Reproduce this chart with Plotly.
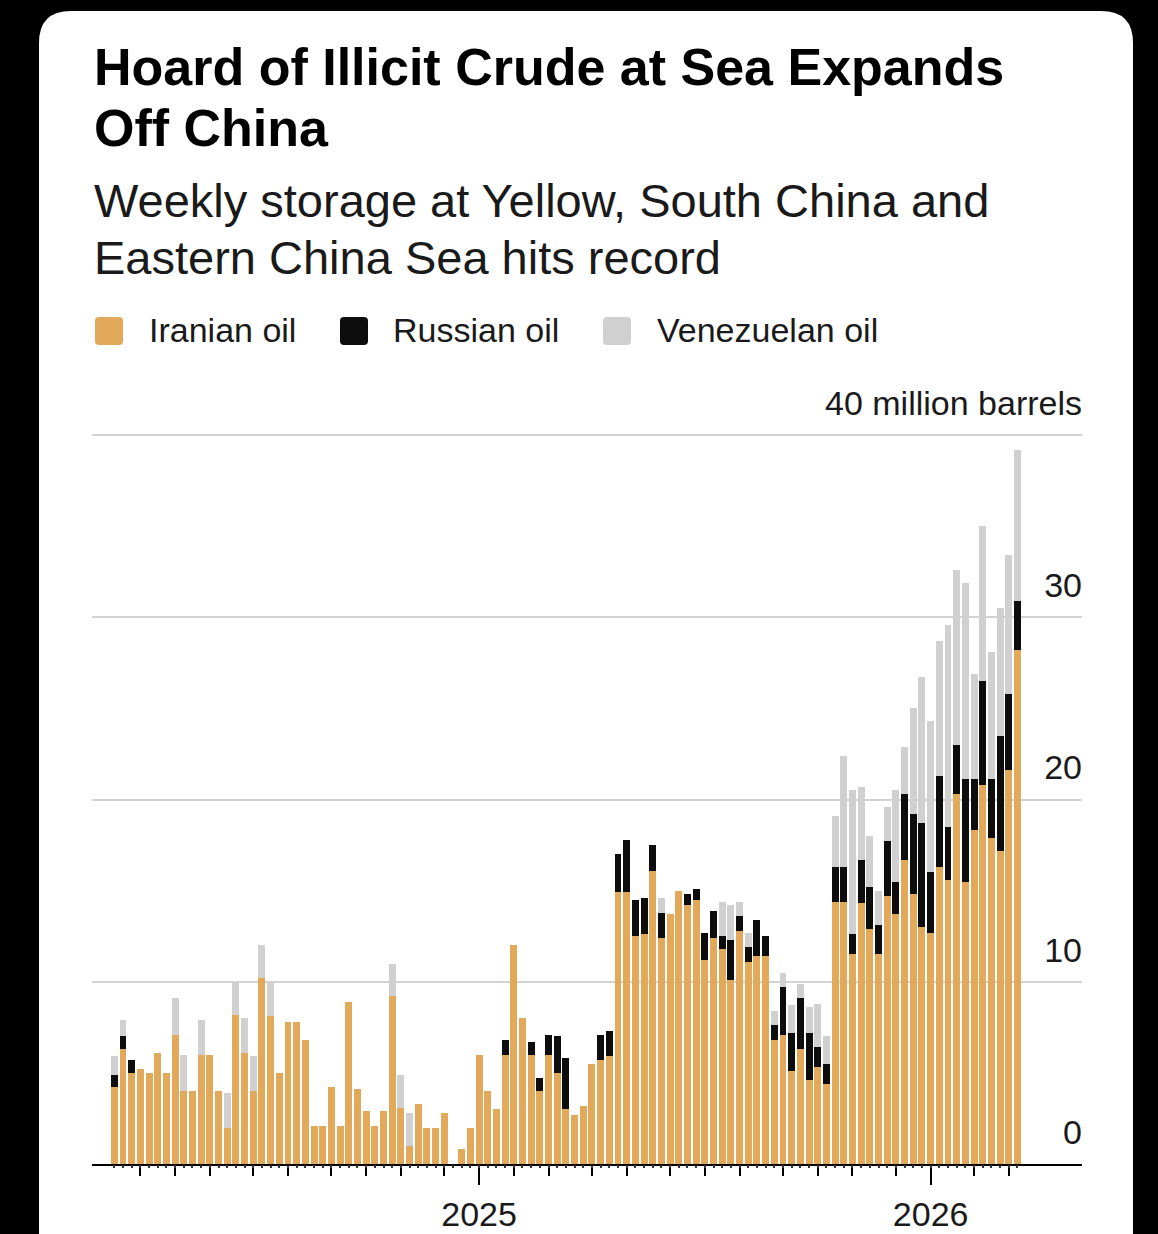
import pandas as pd
import plotly.graph_objects as go

# -----------------------------
# Data (million barrels)
# -----------------------------
weeks = pd.date_range("2024-03-16", periods=105, freq="7D")

iranian = [
    4.2, 6.3, 5.0, 5.2, 5.0, 6.1, 5.0, 7.1, 4.0, 4.0,
    6.0, 6.0, 4.0, 2.0, 8.2, 6.1, 4.0, 10.2, 8.1, 5.0,
    7.8, 7.8, 6.8, 2.1, 2.1, 4.2, 2.1, 8.9, 4.1, 2.9,
    2.1, 2.9, 9.2, 3.1, 1.0, 3.3, 2.0, 2.0, 2.8, 0.0,
    0.8, 2.0, 6.0, 4.0, 3.0, 6.0, 12.0, 8.0, 6.0, 4.0,
    6.0, 5.0, 3.0, 2.7, 3.2, 5.5, 5.7, 5.9, 14.9, 14.9,
    12.5, 12.6, 16.1, 12.4, 13.7, 15.0, 14.2, 14.5, 11.2, 12.4,
    11.8, 10.1, 12.8, 11.1, 11.4, 11.4, 6.8, 7.1, 5.1, 6.3,
    4.6, 5.3, 4.4, 14.4, 14.4, 11.5, 14.3, 12.9, 11.5, 14.7,
    13.7, 16.7, 14.8, 13.0, 12.7, 16.3, 15.6, 20.3, 15.5, 18.3,
    20.8, 17.9, 17.2, 21.6, 28.2,
]
russian = [
    0.7, 0.7, 0.7, 0, 0, 0, 0, 0, 0, 0,
    0, 0, 0, 0, 0, 0, 0, 0, 0, 0,
    0, 0, 0, 0, 0, 0, 0, 0, 0, 0,
    0, 0, 0, 0, 0, 0, 0, 0, 0, 0,
    0, 0, 0, 0, 0, 0.8, 0, 0, 0.7, 0.7,
    1.1, 2.0, 2.8, 0, 0, 0, 1.4, 1.4, 2.1, 2.9,
    2.0, 2.0, 1.4, 1.4, 0, 0, 0.6, 0.6, 1.5, 1.5,
    0.7, 2.2, 0.8, 0.8, 2.0, 1.1, 0.8, 2.6, 2.1, 2.8,
    2.6, 1.1, 1.1, 1.9, 1.9, 1.1, 2.4, 2.3, 1.6, 3.0,
    1.8, 3.6, 4.4, 5.7, 3.3, 5.0, 2.9, 2.7, 5.6, 2.8,
    5.7, 3.2, 6.3, 4.2, 2.7,
]
venezuelan = [
    1.0, 0.9, 0, 0, 0, 0, 0, 2.0, 2.0, 0,
    1.9, 0, 0, 1.9, 1.8, 1.9, 1.9, 1.8, 1.9, 0,
    0, 0, 0, 0, 0, 0, 0, 0, 0, 0,
    0, 0, 1.8, 1.8, 1.8, 0, 0, 0, 0, 0,
    0, 0, 0, 0, 0, 0, 0, 0, 0, 0,
    0, 0, 0, 0, 0, 0, 0, 0, 0, 0,
    0, 0, 0, 0.8, 0, 0, 0, 0, 0, 0,
    1.9, 1.9, 0.8, 0.8, 0, 0, 0.8, 0.8, 1.5, 0.8,
    1.4, 2.4, 1.5, 2.8, 6.1, 7.9, 4.0, 2.8, 1.9, 1.9,
    5.0, 2.6, 5.8, 8.0, 8.3, 7.4, 11.1, 9.6, 10.8, 5.8,
    8.5, 7.0, 7.0, 7.6, 8.3,
]

series = ["Iranian oil", "Russian oil", "Venezuelan oil"]
colors = ["#E2A95B", "#0D0D0D", "#D0D0D0"]

y_ticks = [0, 10, 20, 30, 40]
y_labels = ["0", "10", "20", "30", "40 million barrels"]

# first bar of each month gets a tick, January gets the year label
month_ticks = [d for d in weeks if d.day <= 7]
year_ticks = [d for d in month_ticks if d.month == 1]
year_labels = [str(d.year) for d in year_ticks]

# -----------------------------
# Pixel helpers (margins are zero, so paper == whole page)
# -----------------------------
W, H = 1158, 1234
FONT = "Liberation Sans"


def px(x):
    return x / W


def py(y):
    return 1 - y / H


def rounded_rect(x0, y0, x1, y1, r):
    return (
        f"M {px(x0 + r)},{py(y0)} L {px(x1 - r)},{py(y0)} "
        f"Q {px(x1)},{py(y0)} {px(x1)},{py(y0 + r)} "
        f"L {px(x1)},{py(y1 - r)} Q {px(x1)},{py(y1)} {px(x1 - r)},{py(y1)} "
        f"L {px(x0 + r)},{py(y1)} Q {px(x0)},{py(y1)} {px(x0)},{py(y1 - r)} "
        f"L {px(x0)},{py(y0 + r)} Q {px(x0)},{py(y0)} {px(x0 + r)},{py(y0)} Z"
    )


# -----------------------------
# Build figure
# -----------------------------
fig = go.Figure()
for name, vals, col in zip(series, [iranian, russian, venezuelan], colors):
    fig.add_trace(go.Bar(
        x=weeks, y=vals, name=name, marker=dict(color=col, line=dict(width=0)),
        showlegend=False,
    ))

# invisible trace that carries the tiny weekly ticks
fig.add_trace(go.Scatter(
    x=weeks, y=[0] * len(weeks), xaxis="x2", mode="markers",
    marker=dict(opacity=0), showlegend=False, hoverinfo="skip",
))

x_range = ["2024-02-27", "2026-05-05"]
x_domain = [px(92), px(1082)]

# y: 0 sits at 1164 px, 40 at 435 px; leave headroom so the top label shows
unit = (1164 - 435) / 40
y_top = 44
fig.update_layout(
    template="none",
    width=W, height=H,
    margin=dict(l=0, r=0, t=0, b=0),
    paper_bgcolor="black",
    plot_bgcolor="white",
    barmode="stack",
    bargap=0.2,
    font=dict(family=FONT, color="#1a1a1a"),
    xaxis=dict(
        type="date", domain=x_domain, range=x_range, automargin=False,
        tickmode="array", tickvals=year_ticks, ticktext=year_labels,
        ticks="outside", ticklen=19, tickwidth=2, tickcolor="black",
        minor=dict(tickmode="array", tickvals=month_ticks, ticks="outside",
                   ticklen=10, tickwidth=2, tickcolor="black", showgrid=False),
        showline=True, linecolor="black", linewidth=2,
        showgrid=False, zeroline=False,
        tickfont=dict(size=34, color="#1a1a1a"),
    ),
    xaxis2=dict(
        type="date", overlaying="x", range=x_range, anchor="y", side="bottom",
        tickmode="array", tickvals=weeks, ticks="outside", ticklen=3,
        tickwidth=1.5, tickcolor="#333", showticklabels=False,
        showgrid=False, showline=False, zeroline=False, automargin=False,
    ),
    # value axis pinned at the right edge, labels sit to its left above each line
    yaxis=dict(
        domain=[py(1164), py(1164 - y_top * unit)], range=[0, y_top],
        anchor="free", position=px(1082), side="left",
        automargin=False, tickmode="array", tickvals=y_ticks, ticktext=y_labels,
        ticklabelposition="outside", ticklabelshift=-32, ticks="",
        ticklabelstandoff=0,
        showgrid=True, gridcolor="#D2D2D2", gridwidth=2, zeroline=False,
        tickfont=dict(size=34, color="#1a1a1a"),
    ),
)

# white card behind everything
shapes = [dict(type="path", xref="paper", yref="paper", layer="below",
               path=rounded_rect(39, 11, 1133, 1320, 32),
               fillcolor="white", line=dict(width=0))]

# legend: rounded swatches + labels
legend_x = [(95, 147), (340, 391), (603, 655)]
for (sx, tx), name, col in zip(legend_x, series, colors):
    shapes.append(dict(type="path", xref="paper", yref="paper",
                       path=rounded_rect(sx, 317, sx + 28, 345, 4),
                       fillcolor=col, line=dict(width=0)))
    fig.add_annotation(xref="paper", yref="paper", x=px(tx), y=py(330),
                       xanchor="left", yanchor="middle", showarrow=False,
                       text=name, font=dict(size=34, color="#1a1a1a"))
fig.update_layout(shapes=shapes)

# title and subtitle, one annotation per line
title_lines = ["Hoard of Illicit Crude at Sea Expands", "Off China"]
for line, yc in zip(title_lines, [67, 128]):
    fig.add_annotation(xref="paper", yref="paper", x=px(92), y=py(yc),
                       xanchor="left", yanchor="middle", showarrow=False,
                       text=line, font=dict(size=52, color="black", weight=700))

subtitle_lines = ["Weekly storage at Yellow, South China and",
                  "Eastern China Sea hits record"]
for line, yc in zip(subtitle_lines, [200, 257]):
    fig.add_annotation(xref="paper", yref="paper", x=px(92), y=py(yc),
                       xanchor="left", yanchor="middle", showarrow=False,
                       text=line, font=dict(size=47, color="#1a1a1a"))

# the page body has a default margin; drop it so the figure fills the window
fig.write_html("out.html", config={"displayModeBar": False},
               post_script="document.body.style.margin='0';")
